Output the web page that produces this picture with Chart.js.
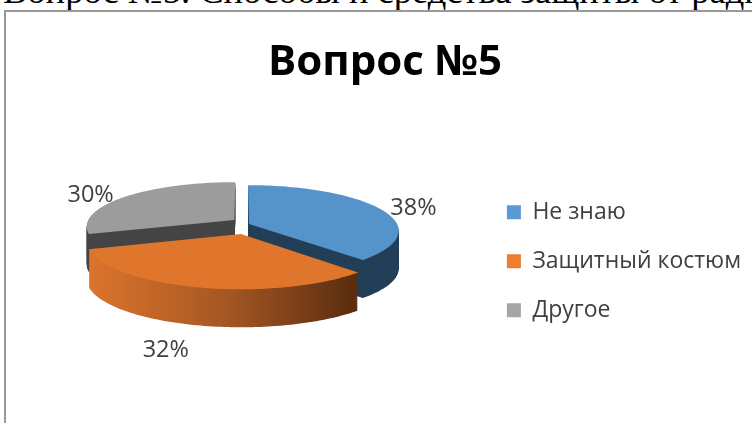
<!DOCTYPE html>
<html>
<head>
<meta charset="utf-8">
<script src="https://cdn.jsdelivr.net/npm/chart.js@4"></script>
<style>
    html, body { margin: 0; padding: 0; background: #fff; overflow: hidden; }
    #wrap { position: relative; width: 752px; height: 423px; overflow: hidden; }
    #caption { position: absolute; left: 3px; top: -31px; white-space: nowrap;
        font: 36.5px "Liberation Serif", serif; color: #000; }
    #frame { position: absolute; left: 4px; top: 10px; width: 760px; height: 430px;
        border: 2px solid #999; box-sizing: border-box; }
    canvas { position: absolute; left: 0; top: 0; }
</style>
</head>
<body>
<div id="wrap">
    <div id="caption">Вопрос №5. Способы и средства защиты от радиации</div>
    <div id="frame"></div>
    <canvas id="myChart" width="752" height="423"></canvas>
</div>
<script>
const categories = ['Не знаю', 'Защитный костюм', 'Другое'];
const shares = [38, 32, 30];
const chartTitle = 'Вопрос №5';

const legendColors = ['#5B9BD5', '#ED7D31', '#A5A5A5'];
const topColors = ['#5593cb', '#e0752c', '#9c9c9c'];
const wallColors = ['#233f58', null, '#454545'];

// 3d look of the pie: camera numbers, and how far each slice is pulled out
const view = { x: 241, y: 224, rx: 148, ry: 44.3, persp: 0.141, depth: 38 };
const explode = [[0.054, 0], [0, -0.22], [-0.045, 0.09]];
const labelShift = [[34, 0], [-31, 63], [-35, -1]];
const paintOrder = [2, 0, 1];

function project(u, v) {
    const s = 1 / (1 + view.persp * v);
    return { x: view.x + u * view.rx * s, y: view.y - v * view.ry * s };
}

function facePoints(arc, i) {
    const pts = [];
    const from = arc.startAngle + Math.PI / 2;
    const to = arc.endAngle + Math.PI / 2;
    const du = explode[i][0], dv = explode[i][1];
    pts.push(project(du, dv));
    for (let n = 0; n <= 90; n++) {
        const a = from + (to - from) * n / 90;
        pts.push(project(du + Math.sin(a), dv + Math.cos(a)));
    }
    return pts;
}

function fillFace(ctx, pts, dy) {
    ctx.beginPath();
    pts.forEach((p, n) => n ? ctx.lineTo(p.x, p.y + dy) : ctx.moveTo(p.x, p.y + dy));
    ctx.closePath();
    ctx.fill();
}

const pie3d = {
    id: 'pie3d',
    beforeDatasetDraw() {
        return false;
    },
    afterDatasetsDraw(chart) {
        const ctx = chart.ctx;
        const arcs = chart.getDatasetMeta(0).data;
        ctx.save();
        paintOrder.forEach(i => {
            const pts = facePoints(arcs[i], i);
            let wall = wallColors[i];
            if (!wall) {
                const xs = pts.map(p => p.x);
                wall = ctx.createLinearGradient(Math.min(...xs), 0, Math.max(...xs), 0);
                wall.addColorStop(0, '#dc742c');
                wall.addColorStop(0.5, '#a65823');
                wall.addColorStop(1, '#582c0e');
            }
            ctx.fillStyle = wall;
            for (let dy = view.depth; dy > 0; dy--) fillFace(ctx, pts, dy);
            ctx.fillStyle = topColors[i];
            fillFace(ctx, pts, 0);
        });

        // percent labels
        const total = shares.reduce((a, b) => a + b, 0);
        ctx.fillStyle = '#404040';
        ctx.font = '23.5px "Open Sans"';
        ctx.textAlign = 'center';
        ctx.textBaseline = 'middle';
        arcs.forEach((arc, i) => {
            const a = (arc.startAngle + arc.endAngle) / 2 + Math.PI / 2;
            const p = project(explode[i][0] + Math.sin(a), explode[i][1] + Math.cos(a));
            ctx.fillText(Math.round(shares[i] / total * 100) + '%', p.x + labelShift[i][0], p.y + labelShift[i][1]);
        });
        ctx.restore();
    }
};

new Chart(document.getElementById('myChart'), {
    type: 'pie',
    data: {
        labels: categories,
        datasets: [{ data: shares, backgroundColor: legendColors, borderWidth: 0 }]
    },
    plugins: [pie3d],
    options: {
        responsive: false,
        animation: false,
        layout: { padding: { top: 38, left: 19, right: 1, bottom: 0 } },
        plugins: {
            tooltip: { enabled: false },
            title: {
                display: true,
                text: chartTitle,
                color: '#000',
                font: { family: '"Open Sans"', size: 42, weight: 'bold' },
                padding: { top: 0, bottom: 11 }
            },
            legend: {
                position: 'right',
                fullSize: false,
                labels: {
                    color: '#404040',
                    boxWidth: 14,
                    boxHeight: 14,
                    padding: 26,
                    font: { family: '"Open Sans"', size: 23 }
                }
            }
        }
    }
});
</script>
</body>
</html>
